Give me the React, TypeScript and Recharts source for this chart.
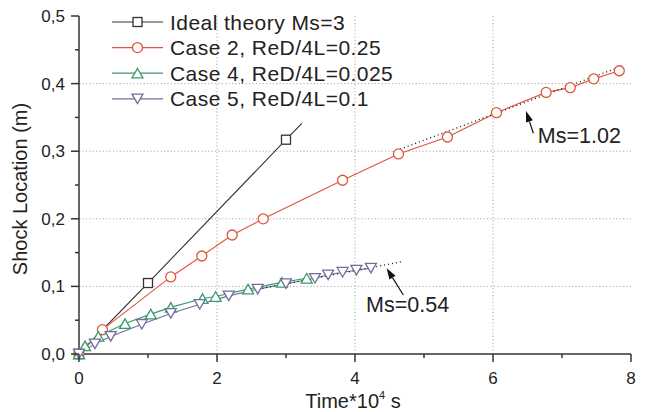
import React from 'react';
import {
  ComposedChart,
  Line,
  XAxis,
  YAxis,
  ReferenceLine,
  ReferenceDot,
  Legend,
} from 'recharts';

// ---------- data ----------
const idealT = [0, 1, 3, 3.23];
const idealY = [0, 0.105, 0.317, 0.341];
const idealMarkerCount = 3;

const case2T = [0, 0.34, 1.33, 1.78, 2.22, 2.67, 3.82, 4.63, 5.34, 6.05, 6.77, 7.12, 7.46, 7.83];
const case2Y = [0, 0.036, 0.114, 0.145, 0.176, 0.2, 0.257, 0.296, 0.321, 0.357, 0.387, 0.394, 0.407, 0.419];

const case4T = [0, 0.087, 0.28, 0.667, 1.04, 1.33, 1.79, 1.98, 2.45, 2.94, 3.3];
const case4Y = [0, 0.012, 0.026, 0.045, 0.059, 0.069, 0.082, 0.085, 0.096, 0.106, 0.112];

const case5T = [0, 0.23, 0.46, 0.91, 1.33, 1.75, 2.17, 2.59, 3.0, 3.42, 3.61, 3.82, 4.02, 4.23];
const case5Y = [0, 0.015, 0.026, 0.044, 0.06, 0.0735, 0.086, 0.096, 0.104, 0.112, 0.117, 0.121, 0.124, 0.127];

const fit2T = [4.6, 7.9];
const fit2Y = [0.301, 0.427];
const fit5T = [2.6, 4.7];
const fit5Y = [0.096, 0.137];

const seriesNames = [
  'Ideal theory Ms=3',
  'Case 2, ReD/4L=0.25',
  'Case 4, ReD/4L=0.025',
  'Case 5, ReD/4L=0.1',
];

const xTicks = [0, 1, 2, 3, 4, 5, 6, 7, 8];
const yTicks = [0, 0.05, 0.1, 0.15, 0.2, 0.25, 0.3, 0.35, 0.4, 0.45, 0.5];
const gridX = [2, 4, 6];
const gridY = [0.1, 0.2, 0.3, 0.4];

const annotationTexts = ['Ms=1.02', 'Ms=0.54'];
const annotationTextX = [6.65, 4.16];
const annotationTextY = [0.312, 0.0626];
const arrowTailX = [6.585, 4.7];
const arrowTailY = [0.3265, 0.0873];
const arrowTipX = [6.478, 4.459];
const arrowTipY = [0.3595, 0.1268];

// ---------- styles ----------
const FONT = '"Liberation Sans", Arial, Helvetica, sans-serif';
const AXIS = '#333';
const TEXT = '#222';
const C_IDEAL = '#333';
const C_RED = '#e0553a';
const C_GREEN = '#3a9a6a';
const C_PURPLE = '#6f6f9e';
const GRID = '#a8a8a8';
const TICK_SIZE = 8;
const TICK_MARGIN = 4;

const zip = (t: number[], y: number[]) => t.map((v, i) => ({ t: v, y: y[i] }));

const idealData = zip(idealT, idealY);
const case2Data = zip(case2T, case2Y);
const case4Data = zip(case4T, case4Y);
const case5Data = zip(case5T, case5Y);
const fit2Data = zip(fit2T, fit2Y);
const fit5Data = zip(fit5T, fit5Y);

type Kind = 'square' | 'circle' | 'up' | 'down';

const marker = (kind: Kind, cx: number, cy: number, color: string, key?: any) => {
  const sw = 1.3;
  if (kind === 'square')
    return <rect key={key} x={cx - 4.5} y={cy - 4.5} width={9} height={9} fill="#fff" stroke={color} strokeWidth={sw} />;
  if (kind === 'circle')
    return <circle key={key} cx={cx} cy={cy} r={5} fill="#fff" stroke={color} strokeWidth={sw} />;
  if (kind === 'up')
    return (
      <polygon
        key={key}
        points={`${cx},${cy - 4.75} ${cx - 5.5},${cy + 4.75} ${cx + 5.5},${cy + 4.75}`}
        fill="#fff"
        stroke={color}
        strokeWidth={sw}
      />
    );
  return (
    <polygon
      key={key}
      points={`${cx},${cy + 4.75} ${cx - 5.5},${cy - 4.75} ${cx + 5.5},${cy - 4.75}`}
      fill="#fff"
      stroke={color}
      strokeWidth={sw}
    />
  );
};

const makeDot = (kind: Kind, color: string, limit?: number) => (p: any) => {
  if (p.cx == null || p.cy == null || (limit != null && p.index >= limit))
    return <g key={`d-${kind}-${p.index}`} />;
  return marker(kind, p.cx, p.cy, color, `d-${kind}-${p.index}`);
};

const XTick = (props: any) => {
  const { x, y, payload } = props;
  const v = payload.value;
  const axisY = y - TICK_SIZE - TICK_MARGIN;
  const major = Math.round(v) % 2 === 0;
  return (
    <g>
      <line x1={x} x2={x} y1={axisY} y2={axisY + (major ? 8 : 4)} stroke={AXIS} strokeWidth={1.5} />
      {major && (
        <text x={x} y={axisY + 30} textAnchor="middle" fontSize={17} fill={TEXT} fontFamily={FONT}>
          {v}
        </text>
      )}
    </g>
  );
};

const YTick = (props: any) => {
  const { x, y, payload } = props;
  const v = payload.value;
  const axisX = x + TICK_SIZE + TICK_MARGIN;
  const major = Math.abs(v * 10 - Math.round(v * 10)) < 1e-6;
  return (
    <g>
      <line x1={axisX} x2={axisX - (major ? 8 : 4)} y1={y} y2={y} stroke={AXIS} strokeWidth={1.5} />
      {major && (
        <text x={axisX - 14} y={y} dy="0.35em" textAnchor="end" fontSize={17} fill={TEXT} fontFamily={FONT}>
          {v.toFixed(1).replace('.', ',')}
        </text>
      )}
    </g>
  );
};

const legendKinds: Kind[] = ['square', 'circle', 'up', 'down'];
const legendColors = [C_IDEAL, C_RED, C_GREEN, C_PURPLE];

const LegendContent = () => (
  <svg width={420} height={120} style={{ overflow: 'visible', display: 'block' }}>
    {seriesNames.map((name, i) => {
      const cy = 22 + i * 25.6;
      return (
        <g key={name}>
          <line x1={112} x2={163} y1={cy} y2={cy} stroke={legendColors[i]} strokeWidth={1.2} />
          {marker(legendKinds[i], 137.5, cy, legendColors[i])}
          <text x={170} y={cy} dy="0.36em" fontSize={21} letterSpacing={0.45} fill={TEXT} fontFamily={FONT}>
            {name}
          </text>
        </g>
      );
    })}
  </svg>
);

const Arrow = (p: any) => {
  const { x1, y1, x2, y2 } = p;
  const ang = Math.atan2(y2 - y1, x2 - x1);
  const len = 11;
  const half = 3.6;
  const bx = x2 - len * Math.cos(ang);
  const by = y2 - len * Math.sin(ang);
  const px = -Math.sin(ang) * half;
  const py = Math.cos(ang) * half;
  return (
    <g>
      <line x1={x1} y1={y1} x2={bx} y2={by} stroke="#111" strokeWidth={1.2} />
      <polygon points={`${x2},${y2} ${bx + px},${by + py} ${bx - px},${by - py}`} fill="#111" />
    </g>
  );
};

export default function App() {
  return (
    <div style={{ position: 'absolute', left: 0, top: 0, width: 645, height: 412, background: '#fff' }}>
      <ComposedChart
        width={645}
        height={412}
        margin={{ top: 16, right: 14, bottom: 0, left: 0 }}
        style={{ fontFamily: FONT }}
      >
        <XAxis
          type="number"
          dataKey="t"
          domain={[0, 8]}
          ticks={xTicks}
          interval={0}
          height={58}
          tickLine={false}
          tickSize={TICK_SIZE}
          tickMargin={TICK_MARGIN}
          tick={<XTick />}
          axisLine={{ stroke: AXIS, strokeWidth: 1.5 }}
          allowDuplicatedCategory={false}
          label={{
            content: (lp: any) => {
              const vb = lp.viewBox || { x: 79, y: 354, width: 552 };
              return (
                <text x={vb.x + vb.width / 2 - 2} y={vb.y + 54} textAnchor="middle" fontSize={20} fill={TEXT} fontFamily={FONT}>
                  Time*10
                  <tspan dy={-9} fontSize={11}>4</tspan>
                  <tspan dy={9}> s</tspan>
                </text>
              );
            },
          }}
        />
        <YAxis
          type="number"
          dataKey="y"
          domain={[0, 0.5]}
          ticks={yTicks}
          interval={0}
          width={79}
          tickLine={false}
          tickSize={TICK_SIZE}
          tickMargin={TICK_MARGIN}
          tick={<YTick />}
          axisLine={{ stroke: AXIS, strokeWidth: 1.5 }}
          label={{
            content: (lp: any) => {
              const vb = lp.viewBox || { x: 0, y: 16, height: 338 };
              const cx = 27;
              const cy = vb.y + vb.height / 2 + 4;
              return (
                <text
                  x={cx}
                  y={cy}
                  transform={`rotate(-90 ${cx} ${cy})`}
                  textAnchor="middle"
                  fontSize={20}
                  fill={TEXT}
                  fontFamily={FONT}
                >
                  Shock Location (m)
                </text>
              );
            },
          }}
        />
        {gridX.map((g) => (
          <ReferenceLine key={`gx${g}`} x={g} stroke={GRID} strokeDasharray="1.2 2.2" strokeWidth={1} />
        ))}
        {gridY.map((g) => (
          <ReferenceLine key={`gy${g}`} y={g} stroke={GRID} strokeDasharray="1.2 2.2" strokeWidth={1} />
        ))}
        <Legend
          layout="vertical"
          align="center"
          verticalAlign="middle"
          content={<LegendContent />}
          wrapperStyle={{ position: 'absolute', left: 0, top: 0, width: 420, height: 120 }}
        />
        <Line
          data={idealData}
          dataKey="y"
          name={seriesNames[0]}
          stroke={C_IDEAL}
          strokeWidth={1.1}
          dot={makeDot('square', C_IDEAL, idealMarkerCount)}
          activeDot={false}
          isAnimationActive={false}
        />
        <Line
          data={case2Data}
          dataKey="y"
          name={seriesNames[1]}
          stroke={C_RED}
          strokeWidth={1.1}
          dot={makeDot('circle', C_RED)}
          activeDot={false}
          isAnimationActive={false}
        />
        <Line
          data={fit2Data}
          dataKey="y"
          name="fit2"
          stroke="#111"
          strokeWidth={1.3}
          strokeDasharray="1 3"
          dot={false}
          activeDot={false}
          legendType="none"
          isAnimationActive={false}
        />
        <Line
          data={case4Data}
          dataKey="y"
          name={seriesNames[2]}
          stroke={C_GREEN}
          strokeWidth={1.1}
          dot={makeDot('up', C_GREEN)}
          activeDot={false}
          isAnimationActive={false}
        />
        <Line
          data={case5Data}
          dataKey="y"
          name={seriesNames[3]}
          stroke={C_PURPLE}
          strokeWidth={1.1}
          dot={makeDot('down', C_PURPLE)}
          activeDot={false}
          isAnimationActive={false}
        />
        <Line
          data={fit5Data}
          dataKey="y"
          name="fit5"
          stroke="#111"
          strokeWidth={1.3}
          strokeDasharray="1 3"
          dot={false}
          activeDot={false}
          legendType="none"
          isAnimationActive={false}
        />
        {annotationTexts.map((txt, i) => (
          <ReferenceLine
            key={`arr${i}`}
            segment={[
              { x: arrowTailX[i], y: arrowTailY[i] },
              { x: arrowTipX[i], y: arrowTipY[i] },
            ]}
            shape={<Arrow />}
          />
        ))}
        {annotationTexts.map((txt, i) => (
          <ReferenceDot
            key={`txt${i}`}
            x={annotationTextX[i]}
            y={annotationTextY[i]}
            r={0}
            shape={(p: any) => (
              <text x={p.cx} y={p.cy} fontSize={21.5} fill={TEXT} fontFamily={FONT}>
                {txt}
              </text>
            )}
          />
        ))}
      </ComposedChart>
    </div>
  );
}
